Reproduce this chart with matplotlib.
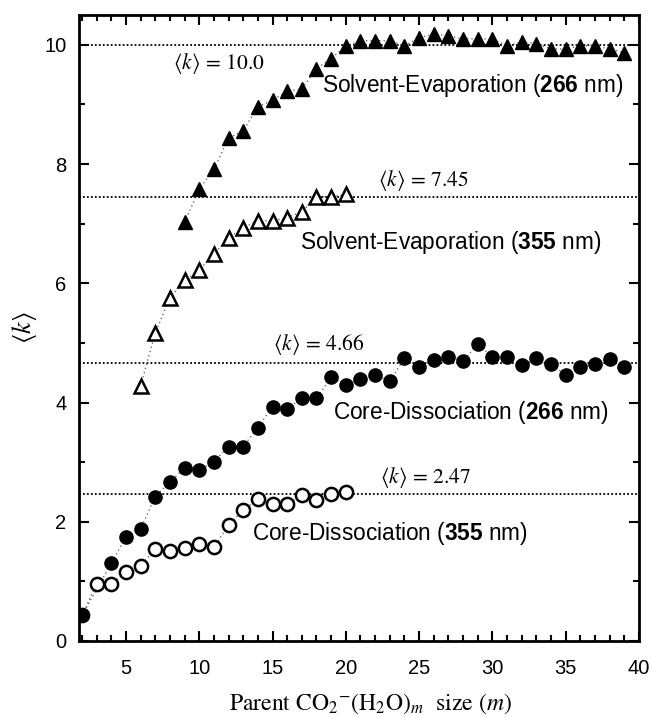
import matplotlib
matplotlib.use("Agg")
import matplotlib.pyplot as plt
from matplotlib.ticker import MultipleLocator

plt.rcParams['font.family'] = ['Liberation Sans', 'DejaVu Sans']
plt.rcParams['mathtext.fontset'] = 'custom'
plt.rcParams['mathtext.rm'] = 'Liberation Sans'
plt.rcParams['mathtext.bf'] = 'Liberation Sans:bold'
plt.rcParams['mathtext.it'] = 'Liberation Sans:italic'

# ---- data ----
m_se266 = list(range(9, 40))
k_se266 = [7.02, 7.58, 7.91, 8.43, 8.56, 8.96, 9.07, 9.22, 9.26, 9.60, 9.77, 9.98,
           10.07, 10.07, 10.07, 9.98, 10.12, 10.18, 10.15, 10.10, 10.10, 10.10,
           9.98, 10.05, 10.02, 9.93, 9.93, 9.98, 9.98, 9.93, 9.87]

m_se355 = list(range(6, 21))
k_se355 = [4.28, 5.16, 5.76, 6.05, 6.22, 6.49, 6.76, 6.93, 7.05, 7.05, 7.10, 7.20,
           7.45, 7.45, 7.49]

m_cd266 = [2] + list(range(4, 40))
k_cd266 = [0.43, 1.30, 1.75, 1.88, 2.42, 2.67, 2.90, 2.86, 3.01, 3.26, 3.26, 3.58,
           3.93, 3.89, 4.08, 4.07, 4.42, 4.30, 4.39, 4.46, 4.36, 4.74, 4.59, 4.71,
           4.77, 4.70, 4.98, 4.77, 4.77, 4.63, 4.75, 4.64, 4.47, 4.59, 4.65, 4.73,
           4.59]

m_cd355 = list(range(2, 21))
k_cd355 = [0.43, 0.96, 0.95, 1.16, 1.25, 1.55, 1.51, 1.56, 1.62, 1.57, 1.95, 2.19,
           2.38, 2.29, 2.29, 2.45, 2.36, 2.46, 2.50]

avg_values = [10.0, 7.45, 4.66, 2.47]
avg_labels = [r'$\langle k\rangle\,=\,10.0$', r'$\langle k\rangle\,=\,7.45$',
              r'$\langle k\rangle\,=\,4.66$', r'$\langle k\rangle\,=\,2.47$']
avg_label_pos = [(8.2, 9.68), (22.2, 7.72), (15.0, 4.97), (22.3, 2.75)]

series_labels = [r'Solvent-Evaporation ($\mathbf{266}$ nm)',
                 r'Solvent-Evaporation ($\mathbf{355}$ nm)',
                 r'Core-Dissociation ($\mathbf{266}$ nm)',
                 r'Core-Dissociation ($\mathbf{355}$ nm)']
series_label_pos = [(18.4, 9.31), (16.85, 6.68), (19.1, 3.83), (13.6, 1.80)]

fig = plt.figure(figsize=(6.52, 7.17), dpi=100)
ax = fig.add_axes([79/652, 1 - 641/717, 560/652, 626/717])

for y in avg_values:
    ax.axhline(y, color='black', lw=1.3, ls=(0, (1, 1.2)), zorder=1)

line_kw = dict(color='#555555', lw=0.9, ls=(0, (1, 2.5)), zorder=2)
ax.plot(m_cd355, k_cd355, **line_kw)
ax.plot(m_cd266, k_cd266, **line_kw)
ax.plot(m_se355, k_se355, **line_kw)
ax.plot(m_se266, k_se266, **line_kw)

ax.plot(m_cd355, k_cd355, ls='none', marker='o', ms=9.5, mfc='white', mec='black', mew=1.8, zorder=3)
ax.plot(m_cd266, k_cd266, ls='none', marker='o', ms=9.5, mfc='black', mec='black', zorder=4)
ax.plot(m_se355, k_se355, ls='none', marker='^', ms=10.5, mfc='white', mec='black', mew=1.8, zorder=3)
ax.plot(m_se266, k_se266, ls='none', marker='^', ms=10.5, mfc='black', mec='black', zorder=4)

for lab, (x, y) in zip(avg_labels, avg_label_pos):
    ax.text(x, y, lab, fontsize=15.5, ha='left', va='center', math_fontfamily='stix', zorder=5)
for lab, (x, y) in zip(series_labels, series_label_pos):
    ax.text(x, y, lab, fontsize=16.3, ha='left', va='center', zorder=5)

ax.set_xlim(1.8, 40.0)
ax.set_ylim(0, 10.5)
ax.xaxis.set_major_locator(MultipleLocator(5))
ax.xaxis.set_minor_locator(MultipleLocator(1))
ax.yaxis.set_major_locator(MultipleLocator(2))
ax.yaxis.set_minor_locator(MultipleLocator(1))
ax.tick_params(which='both', direction='in', top=True, right=True, width=1.5)
ax.tick_params(which='major', length=7, labelsize=14.5, pad=13)
ax.tick_params(axis='y', which='major', pad=9)
ax.tick_params(which='minor', length=4)
for s in ax.spines.values():
    s.set_linewidth(2)

ax.set_xlabel(r'Parent CO$_2$$^{-}$(H$_2$O)$_m$  size ($m$)', fontsize=17,
              fontfamily='STIXGeneral', math_fontfamily='stix', labelpad=10)
ax.xaxis.label.set_x(0.52)
ax.set_ylabel(r'$\langle k\rangle$', fontsize=19, math_fontfamily='stix', labelpad=4)

fig.savefig('out.png', dpi=100)
